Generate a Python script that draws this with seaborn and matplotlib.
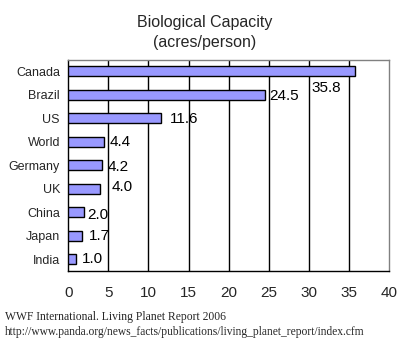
import matplotlib
matplotlib.use("Agg")
import matplotlib.pyplot as plt
import seaborn as sns
import pandas as pd

countries = ["Canada", "Brazil", "US", "World", "Germany", "UK", "China", "Japan", "India"]
capacity = [35.8, 24.5, 11.6, 4.4, 4.2, 4.0, 2.0, 1.7, 1.0]
value_labels = ["35.8", "24.5", "11.6", "4.4", "4.2", "4.0", "2.0", "1.7", "1.0"]
x_ticks = [0, 5, 10, 15, 20, 25, 30, 35, 40]

df = pd.DataFrame({"country": countries, "capacity": capacity})

sns.set_style("white")
plt.rcParams["font.family"] = ["Liberation Sans", "DejaVu Sans"]

W, H = 408, 346
fig = plt.figure(figsize=(W / 100, H / 100), dpi=100)
left, right, top, bottom = 68.3, 389, 59.5, 271
ax = fig.add_axes([left / W, 1 - bottom / H, (right - left) / W, (bottom - top) / H])

sns.barplot(data=df, x="capacity", y="country", orient="h", color="#9999FF",
            edgecolor="black", linewidth=1.0, width=0.42, saturation=1, ax=ax, zorder=3)

ax.set_xlim(0, 40)
ax.set_ylim(len(countries) - 0.5, -0.5)
ax.set_xticks(x_ticks)
ax.set_xticklabels([str(t) for t in x_ticks], fontsize=11)
ax.set_xlabel("")
ax.set_ylabel("")
ax.tick_params(axis="y", which="major", length=0, labelsize=9, pad=6)
ax.set_yticks([i - 0.5 for i in range(len(countries) + 1)], minor=True)
ax.tick_params(axis="y", which="minor", length=4, width=1, color="black", direction="out")
ax.tick_params(axis="x", which="major", length=5, width=1, color="black", direction="out", pad=6, labelsize=11)

for x in x_ticks[1:-1]:
    ax.axvline(x, color="black", linewidth=1, zorder=1)

for s in ["left", "bottom"]:
    ax.spines[s].set_color("black")
    ax.spines[s].set_linewidth(1)
for s in ["top", "right"]:
    ax.spines[s].set_color("#808080")
    ax.spines[s].set_linewidth(1)

# label nudges in pixels (dx from bar end, dy downward from bar centre)
nudges = [(-44, 17), (5, 1), (9, 1), (6, 0.5), (6, 1.5), (11, -1.5), (3, 3), (7, 0), (6, 0)]
for i, (v, lab) in enumerate(zip(capacity, value_labels)):
    dx, dy = nudges[i]
    ax.annotate(lab, xy=(v, i), xytext=(dx * 0.72, -dy * 0.72), textcoords="offset points",
                ha="left", va="center", fontsize=11, color="black", zorder=4)

fig.text(205 / W, 1 - 22 / H, "Biological Capacity", ha="center", va="center", fontsize=11.5)
fig.text(205 / W, 1 - 43 / H, "(acres/person)", ha="center", va="center", fontsize=11.5)

fig.text(5 / W, 1 - 317 / H, "WWF International. Living Planet Report 2006", ha="left", va="center",
         fontsize=8.4, family=["Liberation Serif", "DejaVu Serif"])
fig.text(5 / W, 1 - 332 / H,
         "http://www.panda.org/news_facts/publications/living_planet_report/index.cfm",
         ha="left", va="center", fontsize=8.3, family=["Liberation Serif", "DejaVu Serif"])

fig.savefig("out.png", dpi=100)
